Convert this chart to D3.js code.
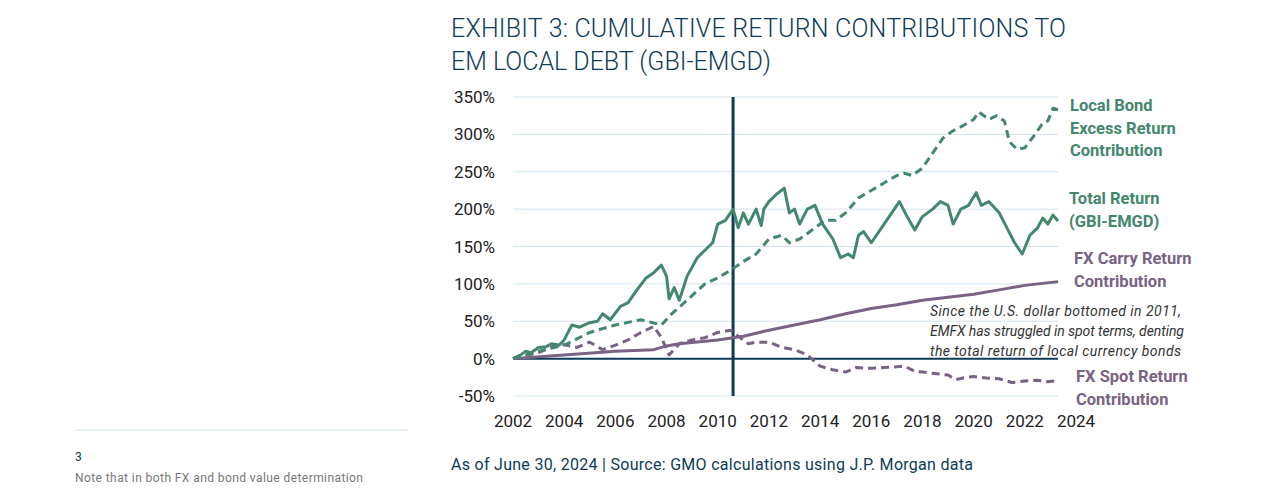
<!DOCTYPE html>
<html><head><meta charset="utf-8">
<script src="https://cdn.jsdelivr.net/npm/d3@7"></script>
<style>body{margin:0;background:#fff}svg{font-family:Roboto,sans-serif}</style>
</head><body><svg id="c" width="1275" height="488"></svg>
<script>
const yearTicks=[2002,2004,2006,2008,2010,2012,2014,2016,2018,2020,2022,2024];
const pctTicks=[-50,0,50,100,150,200,250,300,350];
const totalReturn=[[2002,0],[2002.3,5],[2002.5,10],[2002.7,8],[2003,15],[2003.3,16],[2003.5,20],[2003.8,18],[2004,25],[2004.3,45],[2004.6,42],[2005,48],[2005.3,50],[2005.5,60],[2005.8,52],[2006.2,70],[2006.5,75],[2006.8,90],[2007.2,108],[2007.5,115],[2007.8,125],[2008,110],[2008.1,80],[2008.3,95],[2008.5,78],[2008.8,110],[2009.2,135],[2009.5,145],[2009.8,155],[2010,180],[2010.3,185],[2010.6,200],[2010.8,175],[2011,195],[2011.2,180],[2011.5,200],[2011.7,178],[2011.8,200],[2012,210],[2012.3,220],[2012.6,228],[2012.8,195],[2013,200],[2013.2,180],[2013.5,200],[2013.8,205],[2014.1,180],[2014.5,160],[2014.8,135],[2015.1,140],[2015.3,135],[2015.5,165],[2015.7,170],[2016,155],[2016.4,175],[2016.8,195],[2017.1,210],[2017.4,190],[2017.7,172],[2018,190],[2018.4,200],[2018.7,210],[2019,205],[2019.2,180],[2019.5,200],[2019.8,205],[2020.1,222],[2020.3,205],[2020.6,210],[2021,195],[2021.3,175],[2021.6,155],[2021.9,140],[2022.2,165],[2022.5,175],[2022.7,188],[2022.9,180],[2023.1,192],[2023.3,184]];
const localBondExcess=[[2002,0],[2003,10],[2004,18],[2005,35],[2006,45],[2007,52],[2007.8,45],[2008.2,60],[2008.8,78],[2009.5,100],[2010,108],[2010.5,118],[2011,130],[2011.5,140],[2012,160],[2012.5,165],[2012.8,155],[2013.2,160],[2013.8,175],[2014.2,185],[2014.6,185],[2015,195],[2015.5,215],[2016,225],[2016.5,235],[2017,245],[2017.3,248],[2017.6,245],[2018,255],[2018.4,275],[2018.8,295],[2019.2,305],[2019.5,310],[2020,320],[2020.2,330],[2020.6,320],[2020.9,325],[2021.2,318],[2021.4,290],[2021.7,280],[2022,282],[2022.4,300],[2022.7,315],[2022.9,318],[2023.1,335],[2023.3,333]];
const fxCarry=[[2002,0],[2004,5],[2006,10],[2007.5,12],[2008,17],[2008.5,20],[2010,25],[2011,30],[2012,38],[2013,45],[2014,52],[2015,60],[2016,67],[2017,72],[2018,78],[2019,82],[2020,86],[2021,92],[2022,98],[2023.3,103]];
const fxSpot=[[2002,0],[2003,8],[2003.8,20],[2004.5,15],[2005,22],[2005.5,12],[2006,18],[2006.5,25],[2007,35],[2007.5,43],[2007.8,28],[2008.1,5],[2008.5,20],[2009,25],[2009.5,28],[2010,35],[2010.5,38],[2010.8,30],[2011.2,20],[2011.5,22],[2012,22],[2012.5,15],[2013,12],[2013.5,5],[2014,-10],[2014.5,-15],[2015,-18],[2015.4,-12],[2016,-13],[2016.5,-12],[2017,-11],[2017.3,-10],[2017.7,-17],[2018,-18],[2018.5,-20],[2019,-22],[2019.3,-28],[2019.7,-25],[2020,-24],[2020.5,-26],[2021,-27],[2021.5,-32],[2022,-30],[2022.5,-29],[2022.9,-31],[2023.1,-30],[2023.3,-33]];
const markerYear=2010.6;
const green="#43876c",purple="#7a6284",navy="#0e3b58";
const svg=d3.select("#c");
const x=d3.scaleLinear().domain([2002,2024]).range([513,1076]);
const y=d3.scaleLinear().domain([-50,350]).range([396,97]);
const gx0=513,gx1=1058;
svg.append("text").attr("x",451).attr("y",37).attr("font-size",25).attr("font-weight",300).attr("fill",navy).attr("textLength",615).text("EXHIBIT 3: CUMULATIVE RETURN CONTRIBUTIONS TO");
svg.append("text").attr("x",451).attr("y",70).attr("font-size",25).attr("font-weight",300).attr("fill",navy).attr("textLength",320).text("EM LOCAL DEBT (GBI-EMGD)");
svg.selectAll(".g").data(pctTicks).enter().append("line").attr("x1",gx0).attr("x2",gx1).attr("y1",d=>y(d)).attr("y2",d=>y(d)).attr("stroke","#d3e3ec").attr("stroke-width",1);
svg.selectAll(".yl").data(pctTicks).enter().append("text").attr("x",495).attr("y",d=>y(d)+6).attr("text-anchor","end").attr("font-size",17).attr("fill","#222").text(d=>d+"%");
svg.selectAll(".xl").data(yearTicks).enter().append("text").attr("x",d=>x(d)).attr("y",427).attr("text-anchor","middle").attr("font-size",17).attr("fill","#222").text(d=>d);
svg.append("line").attr("x1",gx0).attr("x2",gx1).attr("y1",y(0)).attr("y2",y(0)).attr("stroke",navy).attr("stroke-width",2);
svg.append("line").attr("x1",x(markerYear)).attr("x2",x(markerYear)).attr("y1",97).attr("y2",396).attr("stroke",navy).attr("stroke-width",3);
const line=d3.line().x(d=>x(d[0])).y(d=>y(d[1]));
function draw(data,color,dash){svg.append("path").attr("d",line(data)).attr("fill","none").attr("stroke",color).attr("stroke-width",3).attr("stroke-dasharray",dash||null).attr("stroke-linejoin","round");}
draw(fxCarry,purple);
draw(fxSpot,purple,"8,5");
draw(localBondExcess,green,"8,5");
draw(totalReturn,green);
function lab(lines,x0,y0,color){lines.forEach((t,i)=>svg.append("text").attr("x",x0).attr("y",y0+i*22.5).attr("font-size",16.5).attr("font-weight",700).attr("fill",color).text(t));}
lab(["Local Bond","Excess Return","Contribution"],1070,111,green);
lab(["Total Return","(GBI-EMGD)"],1069,204,green);
lab(["FX Carry Return","Contribution"],1074,264,purple);
lab(["FX Spot Return","Contribution"],1076,382,purple);
[["Since the U.S. dollar bottomed in 2011,",251],["EMFX has struggled in spot terms, denting",254],["the total return of local currency bonds",251]].forEach((t,i)=>svg.append("text").attr("x",930).attr("y",316+i*20).attr("font-size",14).attr("font-style","italic").attr("fill","#333").attr("textLength",t[1]).text(t[0]));
svg.append("text").attr("x",451).attr("y",470).attr("font-size",16).attr("fill",navy).attr("textLength",522).text("As of June 30, 2024 | Source: GMO calculations using J.P. Morgan data");
svg.append("line").attr("x1",75).attr("x2",408).attr("y1",430).attr("y2",430).attr("stroke","#cfe0ea");
svg.append("text").attr("x",75).attr("y",461).attr("font-size",12).attr("fill",navy).text("3");
svg.append("text").attr("x",75).attr("y",482).attr("font-size",12).attr("fill","#777").attr("textLength",288).text("Note that in both FX and bond value determination");
</script></body></html>
